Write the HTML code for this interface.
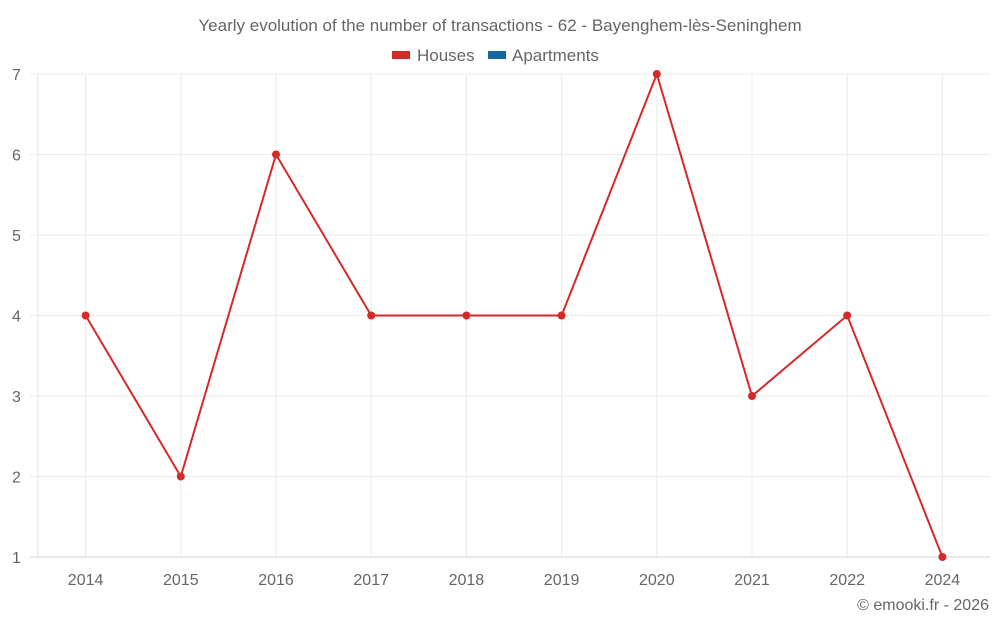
<!DOCTYPE html>
<html><head><meta charset="utf-8">
<style>
body{margin:0;background:#fff;font-family:"Liberation Sans",sans-serif;}
svg text{font-family:"Liberation Sans",sans-serif;fill:#666;}
</style></head>
<body>
<svg id="chart" width="1000" height="625">
<text x="500" y="31" text-anchor="middle" font-size="17">Yearly evolution of the number of transactions - 62 - Bayenghem-lès-Seninghem</text>
<g>
<g><rect x="392" y="51" width="18" height="8" fill="#d42a2a"/><text x="417" y="61" font-size="17">Houses</text></g>
<g><rect x="488" y="51" width="18" height="8" fill="#1565a0"/><text x="512" y="61" font-size="17">Apartments</text></g>
</g>
<g id="grid"></g>
<g id="axes"></g>
<g id="series"></g>
<text x="989" y="610" text-anchor="end" font-size="16">© emooki.fr - 2026</text>
</svg>
<script>
const categories=["2014","2015","2016","2017","2018","2019","2020","2021","2022","2024"];
const houses=[4,2,6,4,4,4,7,3,4,1];
const yTicks=[1,2,3,4,5,6,7];
const L=38,R=990,T=74,B=557,yMin=1,yMax=7;
const NS="http://www.w3.org/2000/svg";
const bw=(R-L)/categories.length;
const x=i=>L+bw*(i+0.5);
const y=v=>B-(v-yMin)/(yMax-yMin)*(B-T);
function mk(t,a,p){const e=document.createElementNS(NS,t);for(const k in a)e.setAttribute(k,a[k]);p.appendChild(e);return e;}
const grid=document.getElementById('grid'),axes=document.getElementById('axes'),ser=document.getElementById('series');
categories.forEach((c,i)=>{
 const l=mk('line',{x1:x(i),x2:x(i),y1:T,y2:B,stroke:'#ebebeb'},grid);
 
 
 const t=mk('text',{x:x(i),y:585,'text-anchor':'middle','font-size':16},axes);
 t.textContent=c;
 
 
});
const ax=mk('line',{x1:L,x2:L,y1:T,y2:B,stroke:'#e0e0e0'},grid);


yTicks.forEach(v=>{
 const l=mk('line',{x1:30,x2:R,y1:y(v),y2:y(v),stroke:v===yMin?'#d0d0d0':'#ebebeb'},grid);
 
 
 const t=mk('text',{x:12,y:y(v)+6,'font-size':16},axes);
 t.textContent=v;
 
 
});
const pl=mk('polyline',{points:houses.map((v,i)=>x(i)+','+y(v)).join(' '),fill:'none',stroke:'#d42a2a','stroke-width':2},ser);


houses.forEach((v,i)=>{
 const c=mk('circle',{cx:x(i),cy:y(v),r:4,fill:'#d42a2a'},ser);
 
 
});
</script>
</body></html>
